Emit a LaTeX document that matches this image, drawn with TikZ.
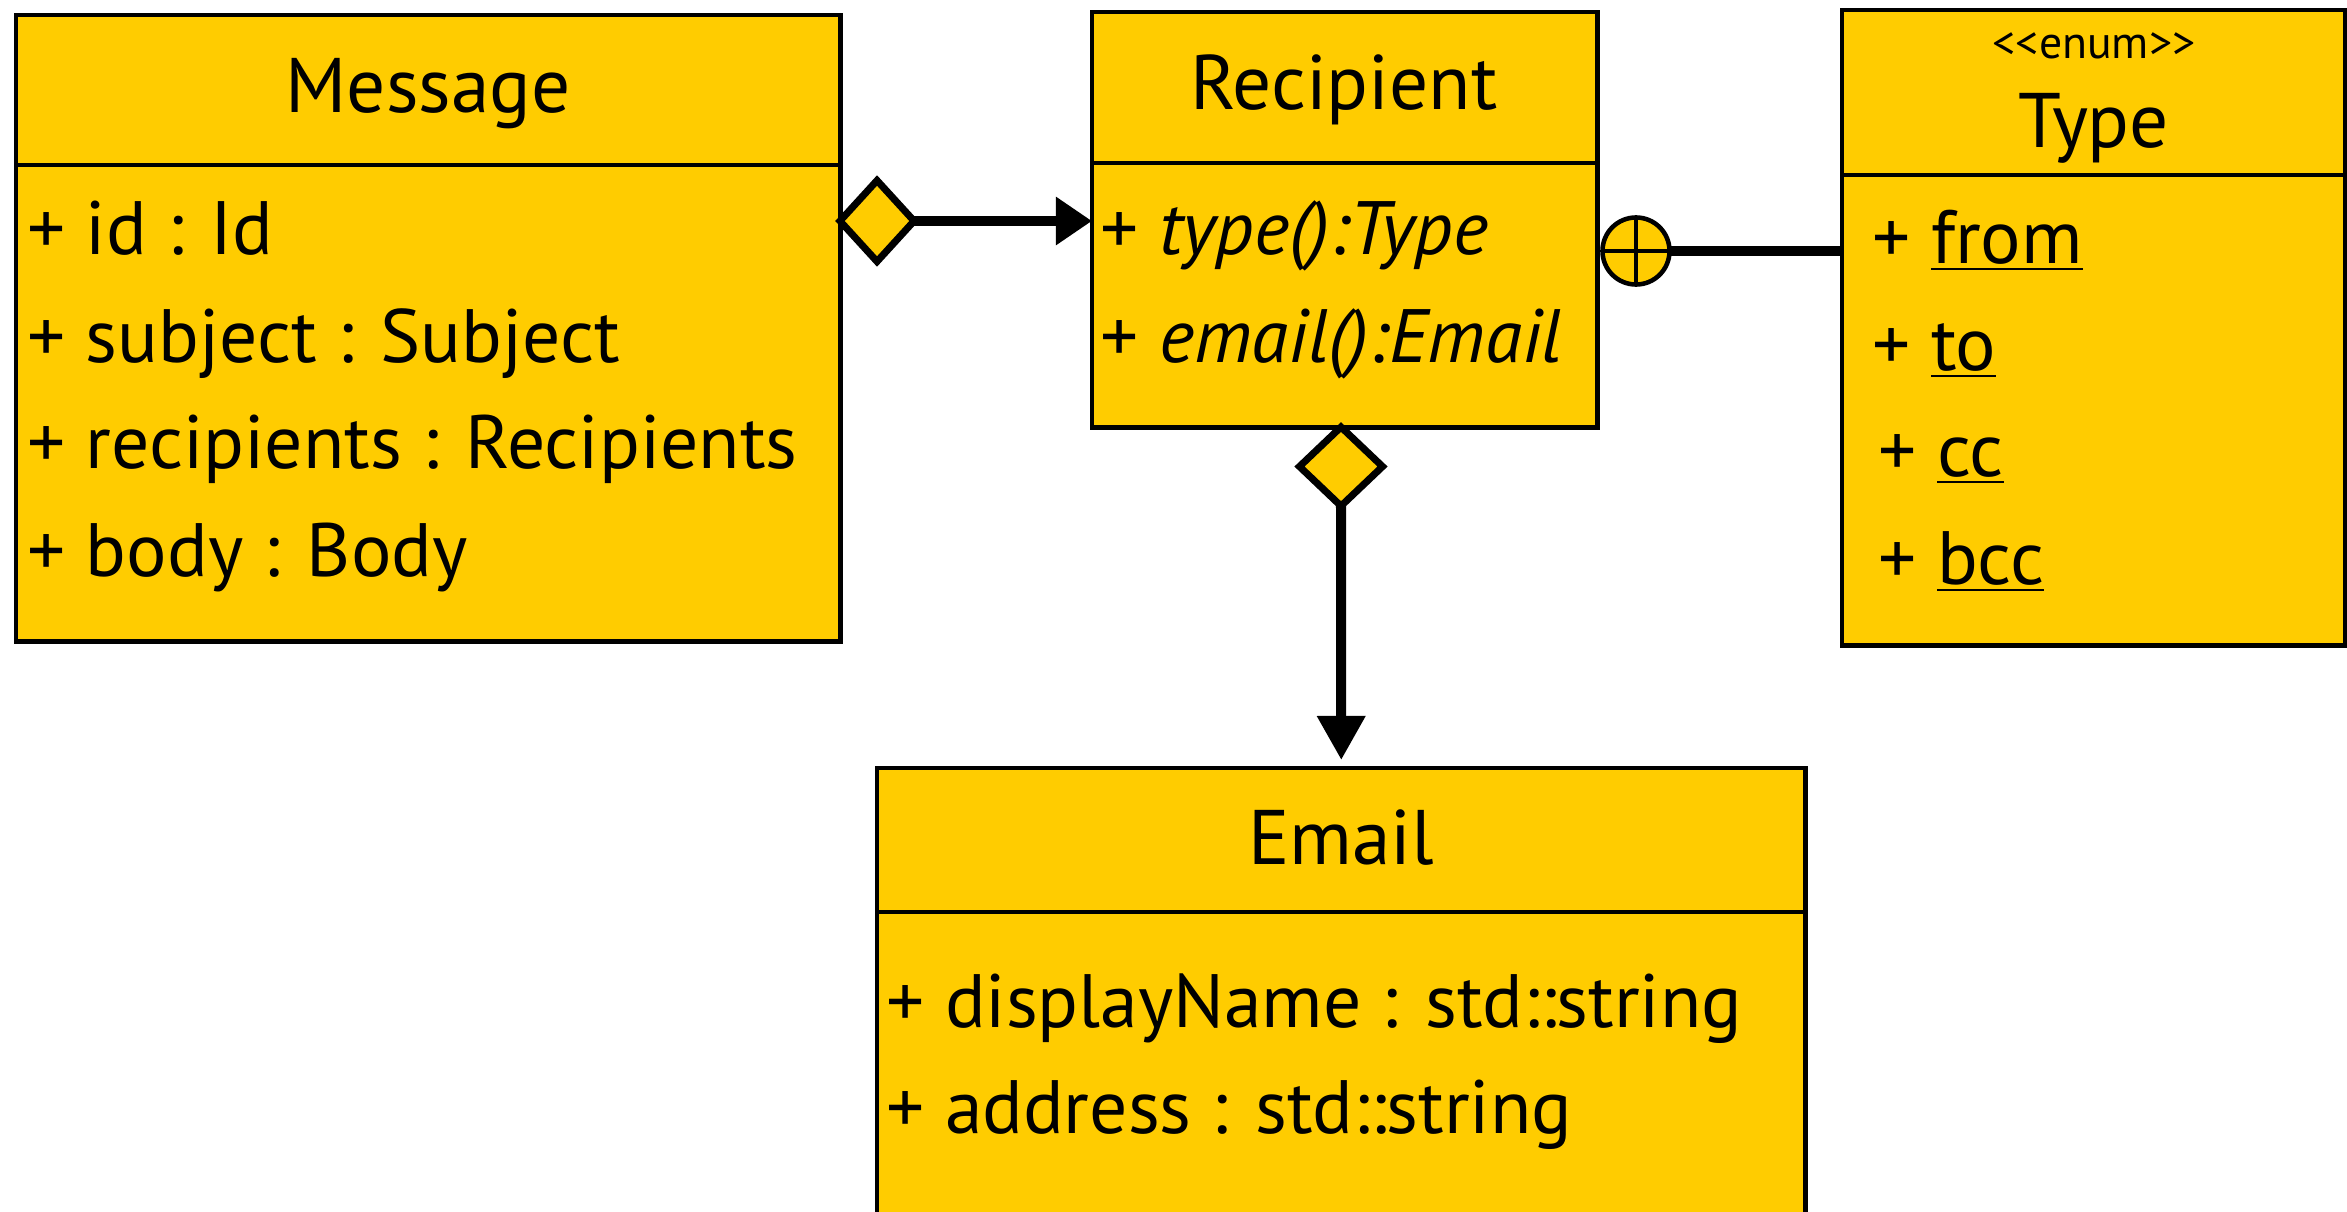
\documentclass[tikz,border=0pt]{standalone}
\usepackage{fontspec}
\setmainfont{PT Sans}
\usepackage{tikz}
\usetikzlibrary{calc, positioning, arrows.meta, shapes.geometric}

\definecolor{umlyellow}{RGB}{255,204,0}
\newcommand{\membersize}{\fontsize{21.5}{26}\selectfont}
\newcommand{\titlesize}{\fontsize{22}{26}\selectfont}
\newcommand{\stereosize}{\fontsize{13}{15}\selectfont}

\tikzset{
    classbox/.style={draw=black, line width=1.4pt, fill=umlyellow, anchor=north west,
        inner sep=0pt, outer sep=0pt},
    divider/.style={draw=black, line width=1.4pt},
    member/.style={anchor=base west, inner sep=0pt, font=\membersize},
    title/.style={anchor=base, inner sep=0pt, font=\titlesize},
    aggr/.style={diamond, draw=black, line width=2pt, fill=umlyellow, inner sep=0pt,
        outer sep=0pt},
    assoc/.style={line width=2.85pt, -{Triangle[length=0.36cm, width=0.46cm]}},
    nestline/.style={line width=2.85pt},
    nest/.style={circle, draw=black, line width=1.3pt, fill=umlyellow, inner sep=0pt,
        outer sep=0pt, minimum size=0.67cm}
}

\begin{document}
\begin{tikzpicture}[x=0.01cm, y=-0.01cm]
    \useasboundingbox (0,0) rectangle (2347,1212);

    % classes
    \node[classbox, minimum width=8.24cm, minimum height=6.26cm] (msg) at (16,15) {};
    \node[classbox, minimum width=5.05cm, minimum height=4.15cm] (rec) at (1092,12) {};
    \node[classbox, minimum width=5.03cm, minimum height=6.35cm] (typ) at (1842,10) {};
    \node[classbox, minimum width=9.28cm, minimum height=4.92cm] (eml) at (877,768) {};

    \draw[divider] (16,165) -- (840,165);
    \draw[divider] (1092,163) -- (1597,163);
    \draw[divider] (1842,175) -- (2345,175);
    \draw[divider] (877,912) -- (1805,912);

    % Message
    \node[title] (msgname) at (428,112) {Message};
    \node[member] (msgid) at (27,254) {+ id : Id};
    \node[member] (msgsubj) at (27,362) {+ subject : Subject};
    \node[member] (msgrcpt) at (27,468) {+ recipients : Recipients};
    \node[member] (msgbody) at (27,576) {+ body : Body};

    % Recipient
    \node[title] (recname) at (1344,109) {Recipient};
    \node[member] (rectype) at (1100,254) {+ \textit{type():Type}};
    \node[member] (recmail) at (1100,362) {+ \textit{email():Email}};

    % Type
    \node[title, font=\stereosize] (typstereo) at (2094,58) {<\kern0pt<enum>\kern0pt>};
    \node[title] (typname) at (2094,147) {Type};
    \node[member] (typfrom) at (1872,263) {+ \underline{from}};
    \node[member] (typto) at (1872,370) {+ \underline{to}};
    \node[member] (typcc) at (1878,476) {+ \underline{cc}};
    \node[member] (typbcc) at (1878,584) {+ \underline{bcc}};

    % Email
    \node[title] (emlname) at (1341,864) {Email};
    \node[member] (emldisp) at (886,1027) {+ displayName : std::string};
    \node[member] (emladdr) at (886,1133) {+ address : std::string};

    % relations
    \node[aggr, anchor=west, minimum width=0.74cm, minimum height=0.81cm] (agg1) at (840,221) {};
    \draw[assoc] (agg1.east) -- (agg1.east -| rec.west);

    \node[aggr, anchor=north, minimum width=0.83cm, minimum height=0.79cm] (agg2) at (1341,427) {};
    \draw[assoc, -{Triangle[length=0.44cm, width=0.46cm]}] (agg2.south) -- ([yshift=0.08cm]eml.north);

    \node[nest] (nst) at (1636,251) {};
    \draw[line width=1.1pt] (nst.north) -- (nst.south);
    \draw[line width=1.1pt] (nst.west) -- (nst.east);
    \draw[nestline] (nst.east) -- (nst.east -| typ.west);
\end{tikzpicture}
\end{document}
